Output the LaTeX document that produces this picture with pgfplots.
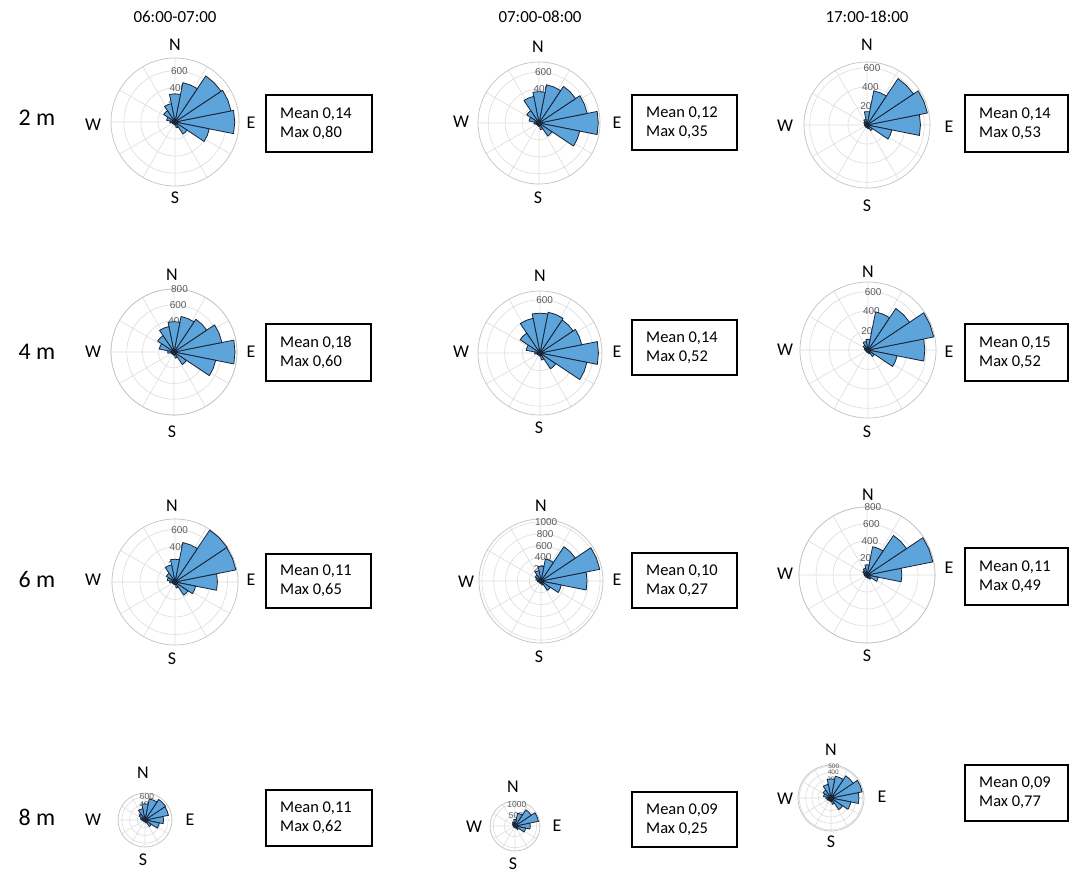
\documentclass[border=0pt]{standalone}
\usepackage{pgfplots}
\pgfplotsset{compat=1.18}
\usepackage{pgfplotstable}
\usepgfplotslibrary{polar}
\usepackage{fontspec}
\setmainfont{Carlito}
\newfontfamily\tickfont{Liberation Sans}

\definecolor{barblue}{RGB}{92,164,218}
\definecolor{baredge}{RGB}{25,35,55}
\definecolor{gridgray}{RGB}{220,220,220}
\definecolor{labgray}{RGB}{90,90,90}

% wind rose counts per 22.5 degree sector (0 = east, counter-clockwise)
\pgfplotstableread{
dir val
0 700
22.5 670
45 650
67.5 470
90 330
112.5 220
135 160
157.5 100
180 60
202.5 35
225 25
247.5 25
270 35
292.5 70
315 170
337.5 410
}\tAa
\pgfplotstableread{
dir val
0 700
22.5 580
45 520
67.5 460
90 370
112.5 320
135 175
157.5 120
180 60
202.5 40
225 30
247.5 30
270 40
292.5 80
315 185
337.5 490
}\tAb
\pgfplotstableread{
dir val
0 560
22.5 645
45 585
67.5 365
90 140
112.5 60
135 40
157.5 30
180 25
202.5 20
225 20
247.5 20
270 25
292.5 40
315 70
337.5 265
}\tAc
\pgfplotstableread{
dir val
0 775
22.5 620
45 500
67.5 460
90 385
112.5 330
135 250
157.5 190
180 80
202.5 40
225 30
247.5 30
270 40
292.5 80
315 190
337.5 540
}\tBa
\pgfplotstableread{
dir val
0 660
22.5 480
45 450
67.5 470
90 450
112.5 400
135 270
157.5 160
180 60
202.5 35
225 25
247.5 25
270 35
292.5 80
315 215
337.5 540
}\tBb
\pgfplotstableread{
dir val
0 585
22.5 690
45 515
67.5 400
90 110
112.5 90
135 60
157.5 40
180 30
202.5 20
225 20
247.5 20
270 25
292.5 40
315 80
337.5 305
}\tBc
\pgfplotstableread{
dir val
0 485
22.5 710
45 715
67.5 460
90 260
112.5 200
135 120
157.5 90
180 60
202.5 30
225 25
247.5 25
270 30
292.5 70
315 180
337.5 240
}\tCa
\pgfplotstableread{
dir val
0 780
22.5 1015
45 700
67.5 380
90 250
112.5 180
135 120
157.5 90
180 60
202.5 40
225 30
247.5 30
270 40
292.5 70
315 190
337.5 350
}\tCb
\pgfplotstableread{
dir val
0 410
22.5 790
45 560
67.5 340
90 120
112.5 80
135 60
157.5 40
180 30
202.5 20
225 20
247.5 20
270 25
292.5 40
315 60
337.5 135
}\tCc
\pgfplotstableread{
dir val
0 480
22.5 620
45 640
67.5 560
90 420
112.5 300
135 180
157.5 120
180 80
202.5 50
225 40
247.5 40
270 50
292.5 80
315 200
337.5 380
}\tDa
\pgfplotstableread{
dir val
0 700
22.5 1100
45 900
67.5 600
90 300
112.5 200
135 150
157.5 100
180 80
202.5 60
225 50
247.5 50
270 60
292.5 100
315 200
337.5 500
}\tDb
\pgfplotstableread{
dir val
0 440
22.5 500
45 420
67.5 350
90 300
112.5 220
135 150
157.5 120
180 80
202.5 60
225 50
247.5 50
270 60
292.5 100
315 220
337.5 320
}\tDc

\pgfplotsset{
  rose/.style={
    scale only axis, anchor=center, clip=false,
    ymin=0,
    xtick={0,30,...,330},
    xticklabel={\mbox{}}, yticklabel={\mbox{}},
    xmajorgrids, ymajorgrids,
    major grid style={draw=gridgray, line width=0.6bp},
    x axis line style={draw=gridgray!88!black, line width=0.7bp},
    y axis line style={draw=none},
    tick style={draw=none},
  },
  sector/.style={fill=barblue, draw=baredge, line width=0.8bp, line join=round, mark=none},
}
\tikzset{
  rlab/.style={font=\tickfont\fontsize{10}{10}\selectfont, text=labgray, inner sep=0pt},
  rlabs/.style={font=\tickfont\fontsize{8.5}{8.5}\selectfont, text=labgray, inner sep=0pt},
  rlabt/.style={font=\tickfont\fontsize{6.5}{6.5}\selectfont, text=labgray, inner sep=0pt},
  cmp/.style={font=\fontsize{18}{20}\selectfont, inner sep=0pt},
}

% one sector per table row, closed back to the centre
\newcommand\drawrose[1]{%
  \pgfplotsforeachungrouped \k in {0,...,15}{%
    \pgfplotstablegetelem{\k}{dir}\of{#1}\let\sdir\pgfplotsretval
    \pgfplotstablegetelem{\k}{val}\of{#1}\let\sval\pgfplotsretval
    \pgfmathsetmacro\slo{\sdir-11.25}%
    \pgfmathsetmacro\shi{\sdir+11.25}%
    \edef\tmp{\noexpand\addplot[sector] coordinates {(\slo,0) (\slo,\sval) (\sdir,\sval) (\shi,\sval) (\shi,0)};}%
    \tmp
  }%
}
% centre x, centre y, diameter, outer radius value, ring values, label style, table
\newcommand\rose[7]{%
  \begin{polaraxis}[rose, at={(#1bp,-#2bp)}, width=#3bp, height=#3bp, ymax=#4, ytick={#5}]
    \pgfplotsinvokeforeach{0,#5}{\node[#6] at (axis cs:85,##1) {##1};}
    \drawrose{#7}
  \end{polaraxis}}
\newcommand\compass[8]{%
  \node[cmp] at (#1bp,-#2bp) {N};
  \node[cmp] at (#3bp,-#4bp) {E};
  \node[cmp] at (#5bp,-#6bp) {S};
  \node[cmp] at (#7bp,-#8bp) {W};}
\newcommand\statbox[6]{%
  \draw[line width=1.2bp] (#1bp,-#2bp) rectangle (#3bp,-#4bp);
  \node[anchor=west, align=left, inner sep=0pt, font=\fontsize{16.5}{19.5}\selectfont]
    at ({(#1+14)*1bp},{-(#2+#4)/2*1bp}) {Mean #5\\Max #6};}

\begin{document}
\begin{tikzpicture}
\useasboundingbox (0,0) rectangle (1073bp,-873bp);

% column headings
\node[font=\fontsize{17}{20}\selectfont] at (175bp,-17bp) {06:00-07:00};
\node[font=\fontsize{17}{20}\selectfont] at (540bp,-17bp) {07:00-08:00};
\node[font=\fontsize{17}{20}\selectfont] at (867bp,-17bp) {17:00-18:00};

% heights
\node[font=\fontsize{24}{28}\selectfont] at (37bp,-118bp) {2 m};
\node[font=\fontsize{24}{28}\selectfont] at (37bp,-352bp) {4 m};
\node[font=\fontsize{24}{28}\selectfont] at (37bp,-580bp) {6 m};
\node[font=\fontsize{24}{28}\selectfont] at (37bp,-817bp) {8 m};

% 2 m
\rose{175}{122}{128}{750}{200,400,600}{rlab}{\tAa}
\rose{539}{123}{122}{720}{200,400,600}{rlab}{\tAb}
\rose{867}{125}{126}{660}{200,400,600}{rlab}{\tAc}
% 4 m
\rose{174}{352}{126}{800}{200,400,600,800}{rlab}{\tBa}
\rose{540}{353}{124}{700}{200,400,600}{rlab}{\tBb}
\rose{868}{350}{136}{700}{200,400,600}{rlab}{\tBc}
% 6 m
\rose{175}{582}{126}{720}{200,400,600}{rlab}{\tCa}
\rose{541}{581}{124}{1050}{200,400,600,800,1000}{rlab}{\tCb}
\rose{867}{575}{136}{800}{200,400,600,800}{rlab}{\tCc}
% 8 m
\rose{145}{820}{54}{700}{200,400,600}{rlabs}{\tDa}
\rose{515}{826}{50}{1150}{500,1000}{rlabs}{\tDb}
\rose{831}{798}{66}{520}{100,200,300,400,500}{rlabt}{\tDc}

% compass letters
\compass{175}{45}{251}{123}{175}{198}{93}{125}
\compass{538}{47}{617}{123}{538}{198}{461}{122}
\compass{867}{45}{949}{127}{867}{206}{785}{126}
\compass{172}{275}{251}{352}{172}{432}{93}{352}
\compass{540}{276}{617}{352}{539}{428}{461}{352}
\compass{868}{272}{949}{352}{867}{432}{785}{350}
\compass{172}{506}{251}{580}{172}{659}{93}{580}
\compass{541}{506}{617}{580}{539}{657}{466}{582}
\compass{868}{495}{949}{568}{867}{656}{785}{574}
\compass{143}{773}{190}{820}{143}{860}{93}{820}
\compass{513}{787}{557}{826}{513}{864}{474}{827}
\compass{831}{750}{882}{797}{831}{842}{785}{799}

% mean / max boxes
\statbox{266}{95}{372}{152}{0,14}{0,80}
\statbox{632}{95}{737}{150}{0,12}{0,35}
\statbox{965}{95}{1068}{152}{0,14}{0,53}
\statbox{266}{324}{371}{381}{0,18}{0,60}
\statbox{632}{320}{737}{375}{0,14}{0,52}
\statbox{965}{324}{1068}{381}{0,15}{0,52}
\statbox{266}{554}{371}{608}{0,11}{0,65}
\statbox{632}{553}{737}{608}{0,10}{0,27}
\statbox{965}{548}{1068}{605}{0,11}{0,49}
\statbox{266}{790}{372}{846}{0,11}{0,62}
\statbox{632}{792}{737}{847}{0,09}{0,25}
\statbox{965}{765}{1068}{821}{0,09}{0,77}
\end{tikzpicture}
\end{document}
